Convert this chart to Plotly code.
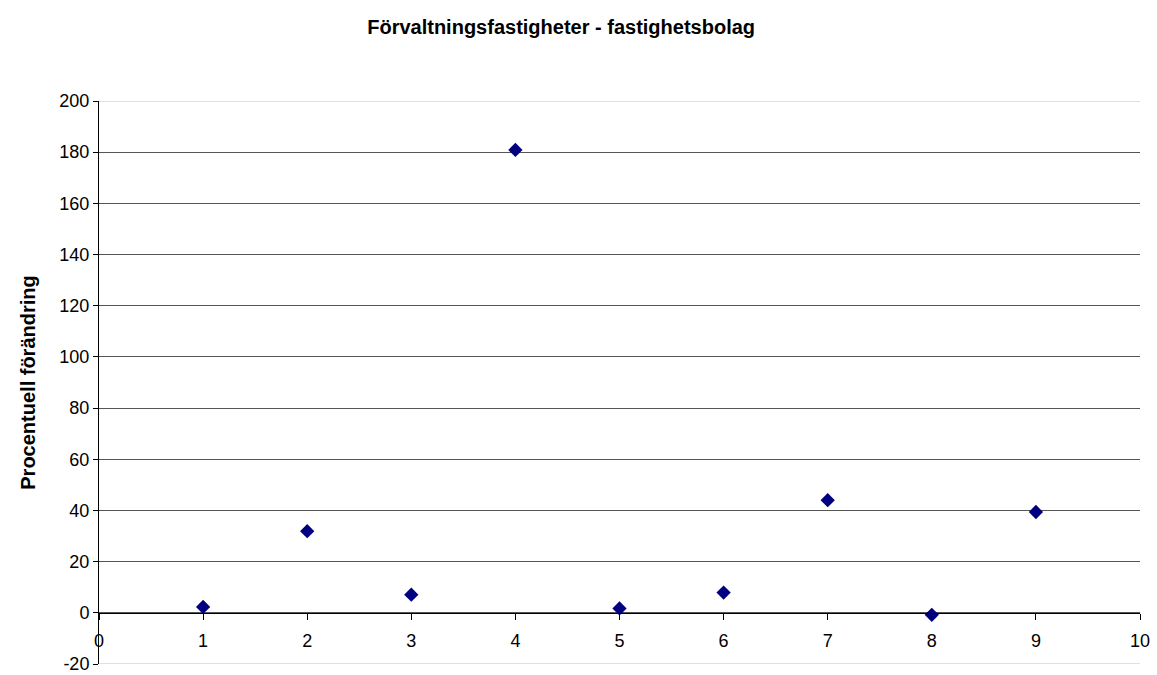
import plotly.graph_objects as go

# Procentuell förändring per fastighetsbolag
bolag = [1, 2, 3, 4, 5, 6, 7, 8, 9]
forandring = [2.3, 31.9, 7.1, 180.9, 1.7, 7.9, 44.0, -0.8, 39.4]

y_min, y_max, y_step = -20, 200, 20
x_min, x_max = 0, 10

y_ticks = list(range(y_min, y_max + 1, y_step))
y_labels = [str(v) for v in y_ticks]

fig = go.Figure()
fig.add_trace(go.Scatter(
    x=bolag, y=forandring, mode="markers",
    marker=dict(symbol="diamond", size=11, color="#000080"),
    cliponaxis=False, showlegend=False,
))

font = dict(family="Liberation Sans, Arial, sans-serif", color="#000000")

# lighter frame lines at the top and bottom of the plot area
for yv in (y_min, y_max):
    fig.add_shape(type="line", xref="x", yref="y", x0=x_min, x1=x_max,
                  y0=yv, y1=yv, line=dict(color="#c0c0c0", width=1),
                  layer="above")

fig.update_layout(
    width=1157, height=675,
    paper_bgcolor="white", plot_bgcolor="white",
    margin=dict(l=99, r=17, t=101, b=11),
    font=dict(size=18, **font),
    title=dict(text="<b>Förvaltningsfastigheter - fastighetsbolag</b>",
               x=0.485, xanchor="center", y=0.96, yanchor="middle",
               font=dict(size=20, **font)),
    xaxis=dict(
        range=[x_min, x_max], dtick=1, tick0=0,
        showgrid=False, zeroline=False, automargin=False,
        showline=True, linecolor="#000000", linewidth=1,
        ticks="outside", ticklen=6, tickcolor="#000000",
        ticklabelstandoff=6,
        anchor="free", position=(0 - y_min) / (y_max - y_min),
        tickfont=dict(size=18, **font),
    ),
    yaxis=dict(
        range=[y_min, y_max],
        tickmode="array", tickvals=y_ticks, ticktext=y_labels,
        ticklabeloverflow="allow", automargin=False,
        showgrid=True, gridcolor="#555555", gridwidth=1,
        zeroline=False,
        showline=True, linecolor="#000000", linewidth=1,
        ticks="outside", ticklen=5, tickcolor="#000000",
        tickfont=dict(size=18, **font),
        title=dict(text="<b>Procentuell förändring</b>", standoff=18,
                   font=dict(size=20, **font)),
    ),
)

fig.write_html("out.html")
